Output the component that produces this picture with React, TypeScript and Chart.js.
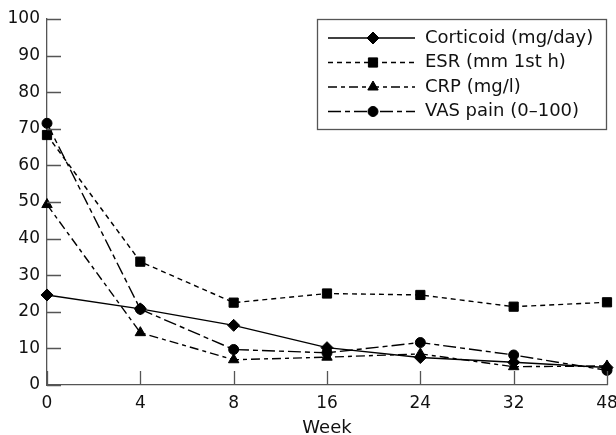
import React, { useEffect, useRef } from 'react';
import { Chart, registerables } from 'chart.js';
import { drawPoint } from 'chart.js/helpers';

Chart.register(...registerables);

const weeks = ['0', '4', '8', '16', '24', '32', '48'];
const corticoid = [24.6, 20.8, 16.3, 10.2, 7.5, 6.2, 4.8];
const esr = [68.3, 33.7, 22.5, 25.0, 24.6, 21.4, 22.6];
const crp = [49.3, 14.3, 6.9, 7.6, 8.5, 5.0, 5.2];
const vas = [71.5, 20.7, 9.7, 8.8, 11.6, 8.2, 4.0];
const seriesNames = ['Corticoid (mg/day)', 'ESR (mm 1st h)', 'CRP (mg/l)', 'VAS pain (0\u2013100)'];
const xTitle = 'Week';

const FONT = "'DejaVu Sans', sans-serif";
const INK = '#111';
const AXIS = '#555';

const inwardTicks = {
  id: 'inwardTicks',
  afterDatasetsDraw(chart: any) {
    const { ctx, chartArea } = chart;
    const xs = chart.scales.x;
    const ys = chart.scales.y;
    ctx.save();
    ctx.strokeStyle = AXIS;
    ctx.lineWidth = 1.3;
    ctx.beginPath();
    xs.ticks.forEach((_: any, i: number) => {
      const x = Math.round(xs.getPixelForTick(i)) + 0.5;
      ctx.moveTo(x, chartArea.bottom);
      ctx.lineTo(x, chartArea.bottom - 14);
    });
    ys.ticks.forEach((_: any, i: number) => {
      const y = Math.round(ys.getPixelForTick(i)) + 0.5;
      ctx.moveTo(chartArea.left, y);
      ctx.lineTo(chartArea.left + 14, y);
    });
    ctx.stroke();
    ctx.restore();
  },
};

const boxLegend = {
  id: 'boxLegend',
  afterDraw(chart: any) {
    const { ctx, chartArea } = chart;
    const right = chartArea.right;
    const left = right - 290;
    const top = chartArea.top;
    const h = 111;
    ctx.save();
    ctx.fillStyle = '#fff';
    ctx.fillRect(left, top, right - left, h);
    ctx.strokeStyle = AXIS;
    ctx.lineWidth = 1.3;
    ctx.strokeRect(left + 0.5, top + 0.5, right - left - 1, h - 1);
    chart.data.datasets.forEach((ds: any, i: number) => {
      const y = top + 19 + i * 24.5;
      ctx.save();
      ctx.strokeStyle = ds.borderColor;
      ctx.lineWidth = ds.borderWidth;
      ctx.setLineDash(ds.borderDash || []);
      ctx.beginPath();
      ctx.moveTo(left + 11, y);
      ctx.lineTo(left + 98, y);
      ctx.stroke();
      ctx.setLineDash([]);
      ctx.fillStyle = ds.pointBackgroundColor;
      ctx.strokeStyle = ds.pointBorderColor;
      ctx.lineWidth = 1;
      drawPoint(ctx, { pointStyle: ds.pointStyle, radius: ds.pointRadius, rotation: 0, borderWidth: 1 }, left + 56, y);
      ctx.restore();
      ctx.fillStyle = INK;
      ctx.font = `18px ${FONT}`;
      ctx.textBaseline = 'middle';
      ctx.textAlign = 'left';
      ctx.fillText(ds.label, left + 108, y);
    });
    ctx.restore();
  },
};

export default function App() {
  const ref = useRef<HTMLCanvasElement | null>(null);
  useEffect(() => {
    if (!ref.current) return;
    const mk = (label: string, data: number[], dash: number[], style: string, r: number) => ({
      label,
      data,
      borderColor: '#000',
      backgroundColor: '#000',
      borderWidth: 1.4,
      borderDash: dash,
      pointStyle: style,
      pointRadius: r,
      pointBackgroundColor: '#000',
      pointBorderColor: '#000',
      pointBorderWidth: 1,
      tension: 0,
      fill: false,
      clip: false,
    });
    const chart = new Chart(ref.current, {
      type: 'line',
      data: {
        labels: weeks,
        datasets: [
          mk(seriesNames[0], corticoid, [], 'rectRot', 6),
          mk(seriesNames[1], esr, [5, 4], 'rect', 6.5),
          mk(seriesNames[2], crp, [9, 4, 4, 4], 'triangle', 6),
          mk(seriesNames[3], vas, [13, 4, 5, 4], 'circle', 5),
        ],
      },
      options: {
        animation: false,
        responsive: true,
        maintainAspectRatio: false,
        layout: { padding: { top: 19, right: 0, left: 0, bottom: 0 } },
        plugins: { legend: { display: false }, tooltip: { enabled: false } },
        scales: {
          x: {
            type: 'category',
            offset: false,
            grid: { display: false, drawTicks: false },
            border: { display: true, color: AXIS, width: 1.3 },
            ticks: { color: INK, font: { family: FONT, size: 17 }, padding: 8, maxRotation: 0, autoSkip: false },
            title: { display: true, text: xTitle, color: INK, font: { family: FONT, size: 18 }, padding: { top: 0, bottom: -4 } },
            afterFit: (s: any) => { s.height = 50; s.paddingRight = 9; s.paddingLeft = 0; },
          },
          y: {
            min: 0,
            max: 100,
            grid: { display: false, drawTicks: false },
            border: { display: true, color: AXIS, width: 1.3 },
            ticks: { stepSize: 10, color: INK, font: { family: FONT, size: 17 }, padding: 7 },
            afterFit: (s: any) => { s.width = 47; s.paddingTop = 0; s.paddingBottom = 0; },
          },
        },
      },
      plugins: [inwardTicks, boxLegend],
    });
    return () => chart.destroy();
  }, []);
  return (
    <div style={{ position: 'fixed', left: 0, top: 0, width: 616, height: 435, background: '#fff' }}>
      <canvas ref={ref} />
    </div>
  );
}
